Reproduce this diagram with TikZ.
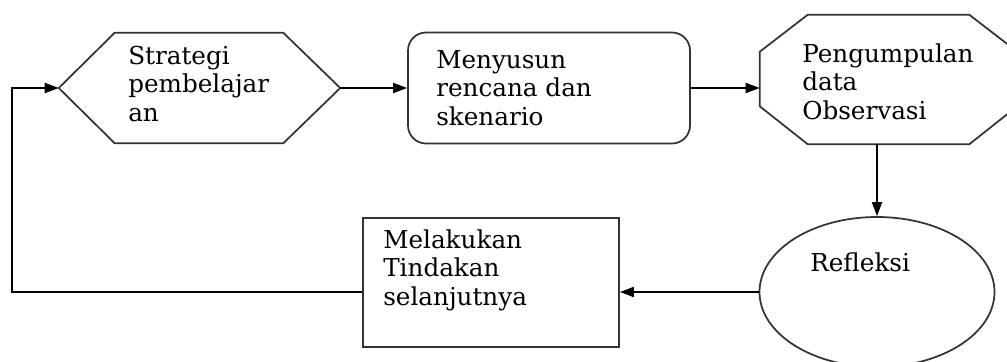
\documentclass[tikz,border=0pt]{standalone}
\usepackage{fontspec}
\setmainfont{DejaVu Serif}
\usetikzlibrary{shapes.geometric,arrows.meta,calc}
\tikzset{
  x=0.75pt, y=-0.75pt,
  outline/.style={draw=black!80, line width=1.3pt},
  conn/.style={draw=black, line width=1.4pt},
  arr/.style={conn, -{Triangle[length=10.5pt,width=7.5pt]}},
  lbl/.style={anchor=north west, inner sep=0pt, align=left,
              font=\fontsize{18.5pt}{21.4pt}\selectfont},
  ghost/.style={inner sep=0pt, draw=none},
}
\begin{document}
\begin{tikzpicture}
\clip (0,0) rectangle (1007,361);
\fill[white] (0,0) rectangle (1007,361);

% shapes
\node[ghost, minimum width=210.75pt, minimum height=82.5pt] (hex) at (199.5,88) {};
\draw[outline] (hex.west) -- ($(hex.north west)+(56,0)$) -- ($(hex.north east)+(-57,0)$)
  -- (hex.east) -- ($(hex.south east)+(-57,0)$) -- ($(hex.south west)+(56,0)$) -- cycle;

\node[outline, rounded corners=13.5pt, minimum width=211.5pt, minimum height=83.25pt,
      inner sep=0pt] (plan) at (549,88) {};

\node[ghost, minimum width=192.75pt, minimum height=96.75pt] (oct) at (888.5,79.5) {};
\draw[outline] ($(oct.north west)+(0,37)$) -- ($(oct.north west)+(48,0)$)
  -- ($(oct.north east)+(-48,0)$) -- ($(oct.north east)+(0,37)$)
  -- ($(oct.south east)+(0,-38)$) -- ($(oct.south east)+(-48,0)$)
  -- ($(oct.south west)+(48,0)$) -- ($(oct.south west)+(0,-38)$) -- cycle;

\node[outline, ellipse, minimum width=176.25pt, minimum height=112.5pt, inner sep=0pt]
  (refl) at (877,292) {};

\node[outline, minimum width=192pt, minimum height=96.75pt, inner sep=0pt]
  (tind) at (491,282.5) {};

% texts
\node[lbl] (thex) at (128,44) {\strut Strategi\\pembelajar\\an};
\node[lbl] (tplan) at (436,48) {\strut Menyusun\\rencana dan\\skenario};
\node[lbl] (toct) at (802,42) {\strut Pengumpulan\\data\\Observasi};
\node[lbl] (ttind) at (383,228) {\strut Melakukan\\Tindakan\\selanjutnya};
\node[lbl] (trefl) at (810,251) {\strut Refleksi};

% connectors
\coordinate (corner) at (12,292);
\draw[arr] (hex.east) -- (plan.west |- hex.east);
\draw[arr] (plan.east) -- (plan.east -| oct.west);
\draw[arr] (refl.north |- oct.south) -- (refl.north);
\draw[arr] (refl.west) -- (refl.west -| tind.east);
\draw[arr] (tind.west |- refl.west) -- (corner) |- (hex.west);
\end{tikzpicture}
\end{document}
